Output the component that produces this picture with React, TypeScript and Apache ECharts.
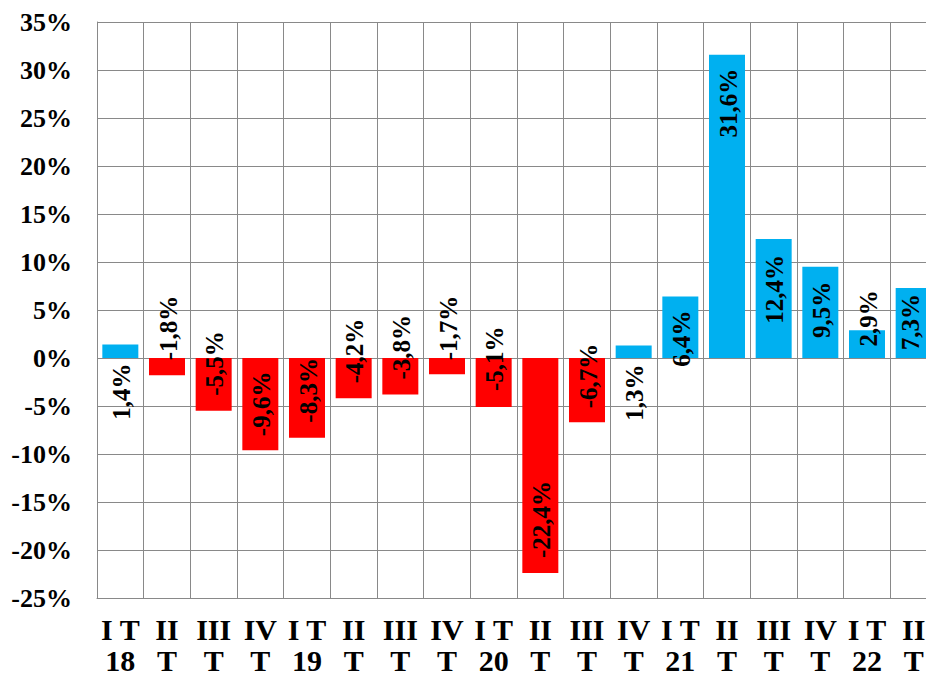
import React, { useEffect, useRef } from "react";
import * as echarts from "echarts";

// ---- data ----
const categories: string[] = [
  "I T\n18", "II\nT", "III\nT", "IV\nT",
  "I T\n19", "II\nT", "III\nT", "IV\nT",
  "I T\n20", "II\nT", "III\nT", "IV\nT",
  "I T\n21", "II\nT", "III\nT", "IV\nT",
  "I T\n22", "II\nT",
];
const values: number[] = [
  1.4, -1.8, -5.5, -9.6,
  -8.3, -4.2, -3.8, -1.7,
  -5.1, -22.4, -6.7, 1.3,
  6.4, 31.6, 12.4, 9.5,
  2.9, 7.3,
];
const yTicks = { min: -25, max: 35, step: 5 };

// ---- style ----
const FONT = '"Liberation Serif", "Times New Roman", serif';
const BLUE = "#00B0F0";
const RED = "#FF0000";
const GRID = "#898989";
// pixel gap between bar end and the near edge of its label (toward zero)
const labelGap: number[] = [
  19, 15, 15, 14,
  15, 15, 15, 14,
  16, 15, 14, 19,
  14, 14, 16, 15,
  -40, 6,
];
// small horizontal nudges of labels (px)
const labelNudgeX: number[] = [
  1, 1, 1, 1, 1, 1, 1, 1, 1,
  1, 1, 1, 1, 1, 1, 1, 1, -3,
];

const fmt = (v: number) => v.toFixed(1).replace(".", ",") + "%";

export default function App() {
  const ref = useRef<HTMLDivElement>(null);
  useEffect(() => {
    document.body.style.margin = "0";
    if (!ref.current) return;
    const chart = echarts.init(ref.current, undefined, { renderer: "svg" });
    chart.setOption({
      animation: false,
      backgroundColor: "#ffffff",
      grid: {
        left: 97,
        top: 22,
        width: 840,
        height: 576,
        containLabel: false,
        outerBoundsMode: "none",
      },
      xAxis: {
        type: "category",
        data: categories,
        boundaryGap: true,
        axisLine: { show: true, onZero: false, lineStyle: { color: GRID, width: 1 } },
        axisTick: { show: false },
        splitLine: { show: true, interval: 0, lineStyle: { color: GRID, width: 1 } },
        axisLabel: {
          interval: 0,
          margin: 16,
          color: "#000",
          fontFamily: FONT,
          fontWeight: "bold",
          fontSize: 30,
          lineHeight: 31,
        },
      },
      yAxis: {
        type: "value",
        min: yTicks.min,
        max: yTicks.max,
        interval: yTicks.step,
        axisLine: { show: true, lineStyle: { color: GRID, width: 1 } },
        axisTick: { show: false },
        splitLine: { show: true, lineStyle: { color: GRID, width: 1 } },
        axisLabel: {
          margin: 25,
          color: "#000",
          fontFamily: FONT,
          fontWeight: "bold",
          fontSize: 26,
          formatter: (v: number) => `${v}%`,
        },
      },
      series: [
        {
          type: "bar",
          barWidth: 36,
          data: values.map((v) => ({
            value: v,
            itemStyle: { color: v >= 0 ? BLUE : RED },
          })),
          z: 2,
        },
        {
          type: "custom",
          z: 5,
          data: values.map((v, i) => [i, v]),
          renderItem: (params: any, api: any) => {
            const idx = params.dataIndex;
            const v = api.value(1);
            const end = api.coord([api.value(0), v]);
            const up = v >= 0;
            const gap = labelGap[idx];
            return {
              type: "text",
              x: end[0] + labelNudgeX[idx],
              y: up ? end[1] + gap : end[1] - gap,
              rotation: Math.PI / 2,
              style: {
                text: fmt(v),
                align: up ? "right" : "left",
                verticalAlign: "middle",
                fontFamily: FONT,
                fontWeight: "bold",
                fontSize: 25,
                fill: "#000",
              },
            };
          },
        },
      ],
    });
    return () => chart.dispose();
  }, []);
  return <div ref={ref} style={{ width: 926, height: 676 }} />;
}
